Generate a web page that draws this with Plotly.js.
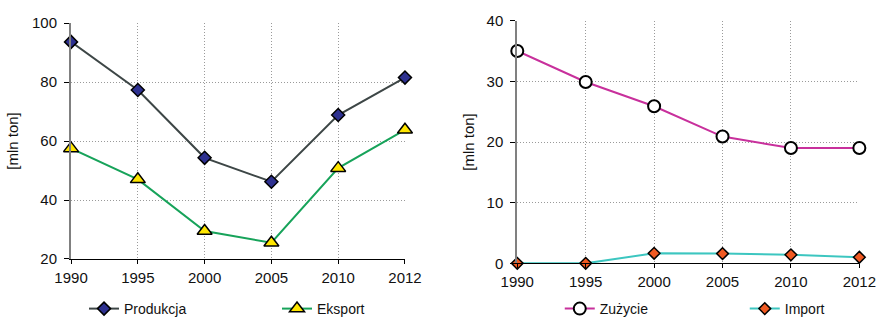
<!DOCTYPE html>
<html>
<head>
<meta charset="utf-8">
<script src="https://cdn.plot.ly/plotly-3.0.1.min.js"></script>
<style>html,body{margin:0;padding:0;background:#fff}#chart{width:876px;height:325px}</style>
</head>
<body>
<div id="chart"></div>
<script>
// Data
const years = ["1990", "1995", "2000", "2005", "2010", "2012"];
const produkcja = [93.6, 77.3, 54.3, 46.2, 68.8, 81.5];
const eksport = [57.5, 47.0, 29.5, 25.5, 50.8, 63.8];
const zuzycie = [35.0, 29.9, 25.9, 20.9, 19.0, 19.0];
const importV = [0.0, 0.0, 1.65, 1.6, 1.4, 1.0];

const font = "Arial, 'Liberation Sans', sans-serif";

const traces = [
  {x: years, y: produkcja, name: "Produkcja", type: "scatter", mode: "lines+markers",
   xaxis: "x", yaxis: "y", legend: "legend", cliponaxis: false, legendwidth: 148,
   line: {color: "#3d4646", width: 2},
   marker: {symbol: "diamond", size: 10, color: "#2e3190", line: {color: "#000", width: 1.5}}},
  {x: years, y: eksport, name: "Eksport", type: "scatter", mode: "lines+markers",
   xaxis: "x", yaxis: "y", legend: "legend", cliponaxis: false, legendwidth: 60,
   line: {color: "#17a35a", width: 2},
   marker: {symbol: "triangle-up", size: 13, color: "#ffe600", line: {color: "#000", width: 1.5}}},
  {x: years, y: zuzycie, name: "Zużycie", type: "scatter", mode: "lines+markers",
   xaxis: "x2", yaxis: "y2", legend: "legend2", cliponaxis: false, legendwidth: 140,
   line: {color: "#c8309c", width: 2},
   marker: {symbol: "circle", size: 12, color: "#fff", line: {color: "#000", width: 2}}},
  {x: years, y: importV, name: "Import", type: "scatter", mode: "lines+markers",
   xaxis: "x2", yaxis: "y2", legend: "legend2", cliponaxis: false, legendwidth: 50,
   line: {color: "#3cc6c0", width: 2},
   marker: {symbol: "diamond", size: 9, color: "#f05a22", line: {color: "#000", width: 1.5}}}
];

const xcommon = {
  type: "category", range: [0, 5], showline: true, linecolor: "#000", linewidth: 1,
  ticks: "outside", ticklen: 4, tickcolor: "#000", tickfont: {family: font, size: 15, color: "#111"},
  ticklabelstandoff: 1, automargin: false,
  showgrid: true, gridcolor: "#9a9a9a", griddash: "1px,2px", gridwidth: 1, zeroline: false,
  ticklabeloverflow: "allow", fixedrange: true
};
const ycommon = {
  showline: true, linecolor: "#808080", linewidth: 2,
  ticks: "outside", ticklen: 5, tickcolor: "#000", tickfont: {family: font, size: 15, color: "#111"},
  ticklabelstandoff: 4, automargin: false,
  showgrid: true, gridcolor: "#9a9a9a", griddash: "1px,2px", gridwidth: 1, zeroline: false, fixedrange: true
};

const layout = {
  width: 876, height: 325,
  margin: {l: 0, r: 0, t: 0, b: 0},
  paper_bgcolor: "#fff", plot_bgcolor: "#fff",
  font: {family: font, color: "#111"},
  xaxis: Object.assign({}, xcommon, {domain: [0.0811, 0.4623], anchor: "y"}),
  yaxis: Object.assign({}, ycommon, {domain: [0.2031, 0.9292], anchor: "x", range: [20, 100], dtick: 20,
    title: {text: "[mln ton]", font: {family: font, size: 15, color: "#111"}, standoff: 10}}),
  xaxis2: Object.assign({}, xcommon, {domain: [0.5905, 0.981], anchor: "y2"}),
  yaxis2: Object.assign({}, ycommon, {domain: [0.1898, 0.9363], anchor: "x2", range: [0, 40], dtick: 10,
    title: {text: "[mln ton]", font: {family: font, size: 15, color: "#111"}, standoff: 8}}),
  legend: {orientation: "h", x: 0.0959, xanchor: "left", y: 0, yanchor: "bottom",
    font: {family: font, size: 14, color: "#111"},
    bgcolor: "rgba(0,0,0,0)", traceorder: "normal"},
  legend2: {orientation: "h", x: 0.639, xanchor: "left", y: 0, yanchor: "bottom",
    font: {family: font, size: 14, color: "#111"},
    bgcolor: "rgba(0,0,0,0)", traceorder: "normal"},
  showlegend: true
};

Plotly.newPlot("chart", traces, layout, {displayModeBar: false, staticPlot: true});
</script>
</body>
</html>
